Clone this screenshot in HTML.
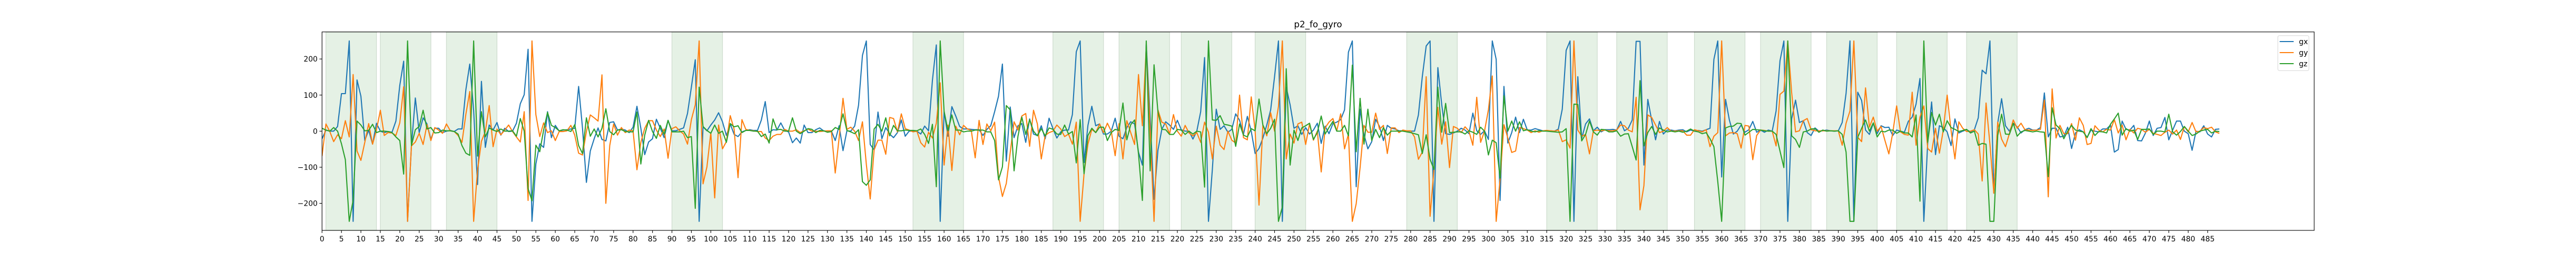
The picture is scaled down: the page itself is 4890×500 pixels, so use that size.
<!DOCTYPE html>
<html><head><meta charset="utf-8"><style>
html,body{margin:0;padding:0;background:#fff;}
svg{display:block;font-family:"DejaVu Sans","Liberation Sans",sans-serif;}
</style></head><body>
<svg id="chart" width="4890" height="500" viewBox="0 0 4890 500" xmlns="http://www.w3.org/2000/svg">
<rect x="0" y="0" width="4890" height="500" fill="#fff"/>
<text x="2502" y="52" text-anchor="middle" font-size="16.7">p2_fo_gyro</text>
<defs><clipPath id="plotclip"><rect x="611.3" y="60.7" width="3781.7" height="377.3"/></clipPath></defs>
<g id="spans"></g>
<g id="lines" clip-path="url(#plotclip)"></g>
<g id="axes"></g>
</svg>
<script>
const seriesNames = ["gx","gy","gz"];
const seriesColors = ["#1f77b4","#ff7f0e","#2ca02c"];
const spanStarts = [1,15,32,90,152,188,205,221,240,279,315,333,353,370,387,405,423];
const spanEnds = [14,28,45,103,165,201,218,234,253,292,328,346,366,383,400,418,436];
const yTicks = [-200,-100,0,100,200];
const yTickLabels = ["\u2212200","\u2212100","0","100","200"];
const gx = [-21,3,0,0,13,104,104,250,-250,142,
97,-26,3,-36,22,0,-4,-1,-3,28,
127,194,-250,-40,92,-4,37,20,-23,8,
8,-4,0,2,-1,6,6,115,186,57,
-148,138,-45,17,3,24,-11,8,-1,0,
22,76,101,227,-250,-91,-35,-45,54,-18,
16,0,3,4,6,8,124,8,-142,-55,
-21,9,-23,-27,24,26,3,6,3,-4,
11,69,8,-65,-30,-21,33,8,-18,30,
1,1,5,9,49,122,198,-250,12,1,
17,31,51,26,-12,20,-9,-15,-2,2,
4,2,2,31,82,-4,4,3,23,2,
-2,-32,-19,-33,17,-4,-4,4,9,1,
0,1,-26,15,-54,1,0,14,72,210,
250,-37,-52,53,-21,10,-8,-18,-4,31,
-14,0,0,0,-8,14,1,141,239,-250,
54,-14,68,42,13,6,6,5,4,4,
-12,5,15,54,97,186,-83,67,-18,15,
21,-31,34,-8,-12,15,-21,36,7,-19,
-2,3,3,46,220,250,-87,16,69,15,
20,-8,-8,0,36,-14,-21,10,26,20,
-58,-94,240,39,-189,-53,5,26,17,5,
30,4,0,0,-22,0,54,204,-250,-106,
61,5,15,-3,5,48,30,-9,41,0,
-62,-48,-19,17,59,151,250,-250,122,73,
8,15,-9,10,-8,3,22,-34,14,-7,
21,25,32,59,219,250,-154,61,-9,-49,
-29,33,13,-26,16,8,6,1,1,0,
0,0,45,151,236,250,-250,176,73,-7,
-9,-5,0,8,3,-7,50,1,-9,1,
-23,250,199,-192,124,-33,-4,39,-4,33,
3,3,7,4,1,1,1,0,6,61,
224,250,-250,151,-20,20,34,1,11,-2,
4,4,5,3,27,1,8,31,249,249,
-94,88,30,-24,27,-8,3,3,1,3,
4,-2,3,0,2,0,4,8,199,250,
-127,88,30,-8,0,17,-3,4,27,-3,
3,-3,3,0,56,195,250,-250,34,86,
24,29,-4,-12,9,0,1,3,1,0,
1,24,105,250,-250,108,85,3,-9,22,
-7,15,10,11,-12,3,0,-3,27,39,
75,146,-250,-31,81,-65,15,10,-2,-40,
34,-5,0,4,-2,4,37,169,159,250,
-172,22,90,15,0,22,12,-5,4,8,
3,3,10,106,-16,8,8,-16,-14,11,
-48,-5,4,-2,-17,3,0,-2,6,6,
17,-58,-51,28,5,3,16,-26,-27,-5,
28,-12,8,10,38,-24,3,28,28,0,
-7,-53,0,-2,15,-8,-16,5,6];
const gy = [-69,20,-1,-29,-10,-21,29,-16,157,-55,
-81,-31,21,-36,3,58,-12,-4,-5,-12,
23,123,-250,-41,-30,-6,-37,18,-26,10,
3,-6,20,1,-1,-12,-31,47,110,-250,
-108,-28,-1,71,-43,6,-10,3,17,-1,
-16,-30,54,-192,250,46,-15,23,-4,1,
-26,-1,-1,1,16,-11,-61,-66,-1,45,
37,28,156,-200,-40,20,-11,10,-4,3,
1,-107,-31,8,29,29,3,-15,6,-75,
7,12,1,-8,-36,32,73,250,-146,-99,
-4,-185,17,-49,-29,43,5,-129,32,5,
2,1,-1,-1,-19,-26,-14,-9,-9,5,
0,0,4,-4,1,6,0,0,-1,0,
1,1,-116,-19,91,5,11,0,-26,26,
-92,-188,-52,-25,-25,-64,38,35,-2,48,
7,3,-2,0,-32,-44,-3,-19,22,134,
-94,17,-109,14,-10,16,6,2,-74,30,
-37,20,1,25,-126,-181,-145,-60,26,3,
42,49,-42,58,20,-77,-12,-4,0,17,
6,-15,-8,-36,25,-250,-118,-36,5,-4,
20,-4,22,0,-68,21,-77,29,-4,-37,
157,15,233,0,-250,59,25,20,-8,46,
0,-14,16,-5,-13,-4,-31,25,-3,-77,
14,-39,-51,0,-25,-33,100,-18,-24,95,
1,-205,17,-13,51,0,68,250,-77,-8,
-33,20,25,-37,20,-25,0,-113,9,25,
35,1,48,-49,-8,-250,-201,-101,16,-3,
-3,50,5,16,-62,9,9,-4,3,1,
1,-16,-78,-58,151,-236,-106,66,-36,26,
-101,13,8,-4,12,0,-39,94,-31,0,
59,153,-250,-134,18,-19,-59,-55,10,7,
3,-4,1,-3,1,2,1,0,3,-29,
-24,-47,250,3,-14,-9,-63,1,3,1,
3,1,1,3,17,15,3,-2,94,-218,
-151,45,38,17,-4,0,10,0,0,1,
1,-11,-11,4,1,-2,4,-43,-14,-4,
250,-13,-5,-4,-7,-47,16,14,-79,-12,
3,2,0,0,-41,102,111,250,107,-2,
1,29,35,4,1,1,1,1,1,1,
1,-39,22,56,250,-17,-29,120,11,39,
0,13,-26,-63,-5,70,-2,-9,-11,108,
-39,39,70,-48,-58,8,-61,3,100,2,
-77,26,8,-1,0,4,-8,-138,78,-36,
-172,25,-22,-43,-7,31,8,22,4,3,
2,3,5,86,-182,117,-19,16,-7,-7,
21,-25,37,16,-37,-34,15,3,-2,5,
3,32,-5,17,-24,5,-5,8,5,-3,
5,-6,-9,-12,-3,3,-8,3,-23,13,
-2,24,-2,0,10,7,11,-2,-6];
const gz = [8,3,0,10,0,-35,-79,-250,-191,28,
17,1,2,19,-4,0,0,-1,-4,-16,
-26,-119,250,-40,4,13,58,6,10,-5,
-4,3,1,1,-1,-8,-40,-61,-67,250,
-69,54,-16,9,3,-1,6,0,0,1,
-14,35,0,-159,-193,-39,-57,3,52,16,
10,1,4,3,-1,18,-40,-62,37,-14,
6,-16,8,62,-1,-10,3,4,-1,-2,
-2,53,-91,-11,30,-1,-20,16,-9,30,
-2,-2,-2,0,-18,-15,-214,122,13,2,
-6,17,-6,0,-31,21,12,15,-4,2,
2,0,0,-15,-8,-33,34,4,5,0,
0,37,0,-7,0,7,5,-4,2,1,
-3,-1,10,5,48,2,-2,-7,4,-140,
-150,-135,6,19,0,37,-13,16,1,1,
3,2,2,1,6,-9,-34,19,-154,250,
55,1,45,3,3,-2,0,0,3,3,
3,-2,-2,-26,-135,-99,71,59,-110,-14,
39,-9,32,0,-13,7,-13,9,5,-8,
-9,17,-8,-1,-88,32,-118,-12,8,-4,
11,11,-26,-4,5,2,78,-24,18,31,
-63,-192,250,-110,184,54,5,4,-9,-9,
5,3,-9,0,-8,0,-2,-155,250,31,
30,43,19,17,14,-42,20,-11,-16,7,
1,89,17,-7,8,33,-250,-210,173,-94,
3,-26,9,15,22,-23,-4,42,-8,10,
27,0,0,16,-13,183,-57,91,-36,61,
-26,5,-18,10,-11,0,0,0,0,-2,
-4,-7,-10,-62,-10,-78,-106,122,-3,77,
-4,-3,-2,-2,-8,1,-3,-9,11,0,
-66,-25,-32,-130,98,0,28,0,26,1,
4,0,-2,1,0,0,-1,-2,-3,-2,
7,-250,75,74,-27,-9,28,-2,-11,5,
4,-2,-2,1,-14,-8,-7,-43,-80,140,
-41,-4,13,-9,9,3,-2,0,-2,0,
-3,0,6,0,-2,-7,-4,-21,-43,-140,
-250,9,13,14,22,21,-11,-3,5,4,
3,1,0,0,-9,-55,-101,250,-13,-23,
-45,-2,0,6,7,-3,3,0,1,0,
1,-9,-58,-250,-250,-17,8,31,0,23,
-16,0,-2,3,3,-6,0,-5,-5,-16,
45,-194,250,-31,52,17,47,-2,29,10,
5,-1,2,5,-5,0,-39,-34,-36,-250,
-250,-12,47,-8,-9,22,-14,-2,2,0,
-2,0,-2,-3,-126,65,17,7,-21,0,
16,3,0,-2,-18,7,-12,-1,-2,-5,
19,34,50,-11,7,0,3,-23,5,5,
6,-9,0,0,-2,47,-2,-11,-1,13,
0,-12,-8,0,3,5,-5,0,-1];

const NS = "http://www.w3.org/2000/svg";
const L = 611.3, R = 4393, T = 60.7, B = 438;
const XMIN = 0, XMAX = 512.4, YMIN = -275, YMAX = 275;
function xs(v){ return L + (v - XMIN) / (XMAX - XMIN) * (R - L); }
function ys(v){ return B - (v - YMIN) / (YMAX - YMIN) * (B - T); }
function mk(tag, attrs, parent){ const e = document.createElementNS(NS, tag); for (const k in attrs) e.setAttribute(k, attrs[k]); parent.appendChild(e); return e; }

const spansG = document.getElementById('spans');
for (let i = 0; i < spanStarts.length; i++) {
  const r = mk('rect', {x: xs(spanStarts[i]), y: T, width: xs(spanEnds[i]) - xs(spanStarts[i]), height: B - T, fill: '#e5f1e5', stroke: '#cfddcf', 'stroke-width': 1.3}, spansG);
  
  
}

const linesG = document.getElementById('lines');
const allSeries = [gx, gy, gz];
for (let s = 0; s < allSeries.length; s++) {
  const d = allSeries[s].map((v, i) => (i ? 'L' : 'M') + xs(i).toFixed(2) + ',' + ys(v).toFixed(2)).join('');
  const p = mk('path', {d: d, fill: 'none', stroke: seriesColors[s], 'stroke-width': 2.1, 'stroke-linejoin': 'round'}, linesG);
  
  
}

const axesG = document.getElementById('axes');
const frame = mk('rect', {x: L, y: T, width: R - L, height: B - T, fill: 'none', stroke: '#000', 'stroke-width': 1.1}, axesG);


for (let i = 0; i < yTicks.length; i++) {
  const y = ys(yTicks[i]);
  const tk = mk('line', {x1: L - 4.9, x2: L, y1: y, y2: y, stroke: '#000', 'stroke-width': 1.1}, axesG);
  
  
  const t = mk('text', {x: L - 8.4, y: y + 5, 'text-anchor': 'end', 'font-size': 13.9}, axesG);
  t.textContent = yTickLabels[i];
  
  
}
for (let v = 0; v <= 485; v += 5) {
  const x = xs(v);
  const tk = mk('line', {x1: x, x2: x, y1: B, y2: B + 4.9, stroke: '#000', 'stroke-width': 1.1}, axesG);
  
  
  const t = mk('text', {x: x, y: B + 21, 'text-anchor': 'middle', 'font-size': 13.9}, axesG);
  t.textContent = String(v);
  
  
}
// legend
const lg = mk('g', {}, axesG);


mk('rect', {x: 4324, y: 67.7, width: 59, height: 66.5, rx: 3, fill: '#fff', 'fill-opacity': 0.8, stroke: '#d5d5d5', 'stroke-width': 1}, lg);
for (let s = 0; s < seriesNames.length; s++) {
  const y = 79 + s * 21;
  const ln = mk('line', {x1: 4327.5, x2: 4354, y1: y, y2: y, stroke: seriesColors[s], 'stroke-width': 2.1}, lg);
  
  
  const t = mk('text', {x: 4364, y: y + 5, 'font-size': 13.9}, lg);
  t.textContent = seriesNames[s];
  
  
}
</script>
</body></html>
